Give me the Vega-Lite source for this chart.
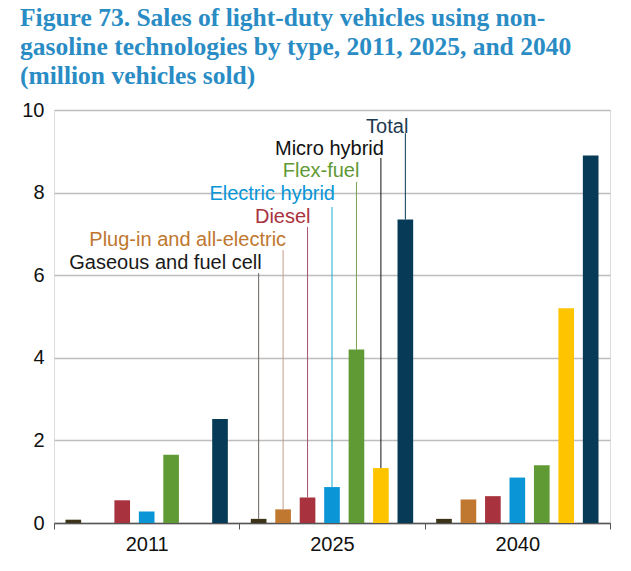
{
  "$schema": "https://vega.github.io/schema/vega-lite/v6.json",
  "width": 556,
  "height": 413,
  "autosize": {"type": "none"},
  "padding": {"left": 54, "top": 110, "right": 21, "bottom": 48},
  "background": "white",
  "title": {
    "text": ["Figure 73. Sales of light-duty vehicles using non-", "gasoline technologies by type, 2011, 2025, and 2040", "(million vehicles sold)"],
    "anchor": "start",
    "frame": "group",
    "dx": -34,
    "offset": 11,
    "font": "Liberation Serif",
    "fontSize": 25.5,
    "fontWeight": "bold",
    "color": "#2a8cc4",
    "lineHeight": 29
  },
  "datasets": {
    "bars": [
      {"year": "2011", "type": "Gaseous and fuel cell", "value": 0.08},
      {"year": "2011", "type": "Plug-in and all-electric", "value": 0},
      {"year": "2011", "type": "Diesel", "value": 0.55},
      {"year": "2011", "type": "Electric hybrid", "value": 0.28},
      {"year": "2011", "type": "Flex-fuel", "value": 1.65},
      {"year": "2011", "type": "Micro hybrid", "value": 0},
      {"year": "2011", "type": "Total", "value": 2.52},
      {"year": "2025", "type": "Gaseous and fuel cell", "value": 0.1},
      {"year": "2025", "type": "Plug-in and all-electric", "value": 0.33},
      {"year": "2025", "type": "Diesel", "value": 0.62},
      {"year": "2025", "type": "Electric hybrid", "value": 0.87},
      {"year": "2025", "type": "Flex-fuel", "value": 4.2},
      {"year": "2025", "type": "Micro hybrid", "value": 1.33},
      {"year": "2025", "type": "Total", "value": 7.35},
      {"year": "2040", "type": "Gaseous and fuel cell", "value": 0.1},
      {"year": "2040", "type": "Plug-in and all-electric", "value": 0.57},
      {"year": "2040", "type": "Diesel", "value": 0.65},
      {"year": "2040", "type": "Electric hybrid", "value": 1.1},
      {"year": "2040", "type": "Flex-fuel", "value": 1.4},
      {"year": "2040", "type": "Micro hybrid", "value": 5.2},
      {"year": "2040", "type": "Total", "value": 8.9}
    ],
    "labels": [
      {"year": "2025", "type": "Gaseous and fuel cell", "value": 0.1, "lineTop": 6.05, "labelAt": 6.3},
      {"year": "2025", "type": "Plug-in and all-electric", "value": 0.33, "lineTop": 6.61, "labelAt": 6.85},
      {"year": "2025", "type": "Diesel", "value": 0.62, "lineTop": 7.17, "labelAt": 7.41},
      {"year": "2025", "type": "Electric hybrid", "value": 0.87, "lineTop": 7.65, "labelAt": 7.97},
      {"year": "2025", "type": "Flex-fuel", "value": 4.2, "lineTop": 8.26, "labelAt": 8.52},
      {"year": "2025", "type": "Micro hybrid", "value": 1.33, "lineTop": 8.84, "labelAt": 9.06},
      {"year": "2025", "type": "Total", "value": 7.35, "lineTop": 9.44, "labelAt": 9.59}
    ]
  },
  "encoding": {
    "x": {
      "field": "year",
      "type": "nominal",
      "scale": {"paddingInner": 0, "paddingOuter": 0},
      "axis": {
        "title": null,
        "labelAngle": 0,
        "labelFont": "Liberation Sans",
        "labelFontSize": 20,
        "labelColor": "#111",
        "labelPadding": 5,
        "tickBand": "extent",
        "tickSize": 6,
        "tickColor": "#555",
        "domainColor": "#555",
        "domainWidth": 1.5,
        "grid": false
      }
    },
    "xOffset": {
      "field": "type",
      "type": "nominal",
      "sort": ["Gaseous and fuel cell", "Plug-in and all-electric", "Diesel", "Electric hybrid", "Flex-fuel", "Micro hybrid", "Total"],
      "scale": {"paddingInner": 0.36, "paddingOuter": 0.47}
    }
  },
  "layer": [
    {
      "data": {"name": "bars"},
      "mark": {"type": "bar"},
      "encoding": {
        "y": {
          "field": "value",
          "type": "quantitative",
          "scale": {"domain": [0, 10]},
          "axis": {
            "title": null,
            "values": [0, 2, 4, 6, 8, 10],
            "labelFont": "Liberation Sans",
            "labelFontSize": 20,
            "labelColor": "#111",
            "labelPadding": 10,
            "ticks": false,
            "domain": false,
            "grid": true,
            "gridColor": "#bdbdbd",
            "gridWidth": 1.5
          }
        },
        "fill": {
          "field": "type",
          "type": "nominal",
          "scale": {
            "domain": ["Gaseous and fuel cell", "Plug-in and all-electric", "Diesel", "Electric hybrid", "Flex-fuel", "Micro hybrid", "Total"],
            "range": ["#3d3318", "#c0772f", "#a8323e", "#0a96d6", "#5f9a34", "#ffc400", "#063a56"]
          },
          "legend": null
        }
      }
    },
    {
      "data": {"name": "labels"},
      "mark": {"type": "rule", "strokeWidth": 1},
      "encoding": {
        "y": {"field": "lineTop", "type": "quantitative"},
        "y2": {"field": "value"},
        "stroke": {
          "field": "type",
          "type": "nominal",
          "scale": {
            "domain": ["Gaseous and fuel cell", "Plug-in and all-electric", "Diesel", "Electric hybrid", "Flex-fuel", "Micro hybrid", "Total"],
            "range": ["#6a6460", "#c89a8a", "#a8506a", "#1aaad0", "#78a050", "#111111", "#063a56"]
          },
          "legend": null
        }
      }
    },
    {
      "data": {"name": "labels"},
      "mark": {"type": "text", "align": "right", "baseline": "middle", "dx": 3, "font": "Liberation Sans", "fontSize": 20},
      "encoding": {
        "y": {"field": "labelAt", "type": "quantitative"},
        "text": {"field": "type"},
        "color": {
          "field": "type",
          "type": "nominal",
          "scale": {
            "domain": ["Gaseous and fuel cell", "Plug-in and all-electric", "Diesel", "Electric hybrid", "Flex-fuel", "Micro hybrid", "Total"],
            "range": ["#1a1a1a", "#c0772f", "#a8323e", "#0a96d6", "#5f9a34", "#111111", "#1d3a50"]
          },
          "legend": null
        }
      }
    }
  ]
}
